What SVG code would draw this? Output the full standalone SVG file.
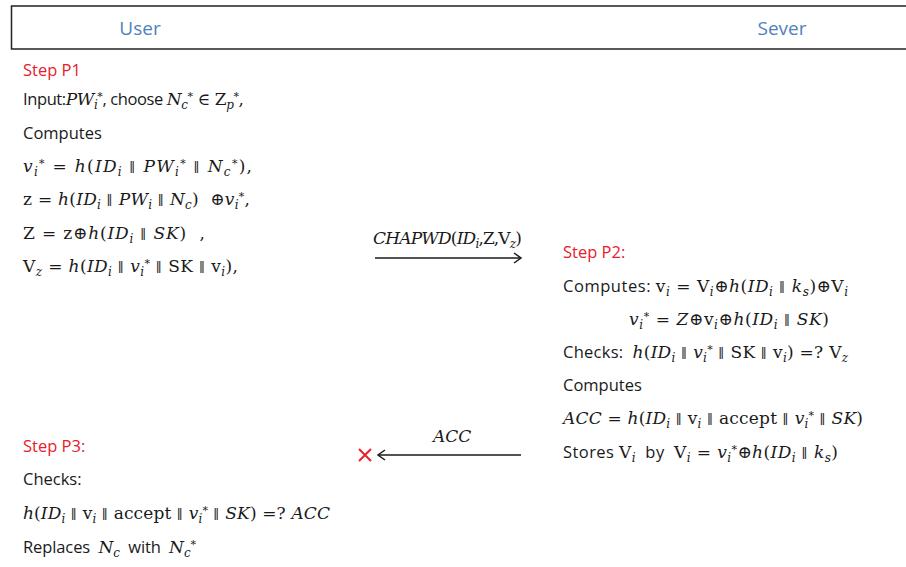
<svg xmlns="http://www.w3.org/2000/svg" width="906" height="567" viewBox="0 0 906 567">
<style>
text{font-family:"DejaVu Serif","Liberation Serif",serif;font-size:17px;fill:#1a1a1a;white-space:pre}
.s{font-family:"Open Sans","Liberation Sans",sans-serif;font-size:16.5px}
.r{fill:#e8202a}
.h{font-family:"Open Sans","Liberation Sans",sans-serif;font-size:19px;fill:#4f81bd}
.i{font-style:italic}
.b{font-size:12px;baseline-shift:-4px}
.p{font-size:11px;baseline-shift:5px}
.c{font-family:"DejaVu Serif",serif;font-size:13px;fill:#1a1a1a}
</style>
<defs>
<marker id="ah" markerWidth="12" markerHeight="12" refX="10" refY="6" orient="auto" markerUnits="userSpaceOnUse">
<path d="M3,1 L10,6 L3,11" fill="none" stroke="#1a1a1a" stroke-width="1.5"/>
</marker>
</defs>
<g id="header">
<path d="M906,6 H11.5 V49 H906" fill="none" stroke="#222" stroke-width="1.5"/>
<text class="h" x="140" y="35" text-anchor="middle">User</text>
<text class="h" x="782" y="35" text-anchor="middle">Sever</text>
</g>
<g id="step-p1">
<text class="s r" x="23" y="76">Step P1</text>
<text x="23" y="105" textLength="221" lengthAdjust="spacing"><tspan class="s">Input:</tspan><tspan class="i">PW</tspan><tspan class="b i">i</tspan><tspan class="p">*</tspan><tspan class="s">, choose </tspan><tspan class="i">N</tspan><tspan class="b i">c</tspan><tspan class="p">*</tspan> ∈ Z<tspan class="b i">p</tspan><tspan class="p">*</tspan>,</text>
<text class="s" x="23" y="139">Computes</text>
<text x="23" y="172" textLength="229" lengthAdjust="spacing"><tspan class="i">v</tspan><tspan class="b i">i</tspan><tspan class="p">*</tspan> = <tspan class="i">h</tspan>(<tspan class="i">ID</tspan><tspan class="b i">i</tspan> <tspan class="c">∥</tspan> <tspan class="i">PW</tspan><tspan class="b i">i</tspan><tspan class="p">*</tspan> <tspan class="c">∥</tspan> <tspan class="i">N</tspan><tspan class="b i">c</tspan><tspan class="p">*</tspan>),</text>
<text x="23" y="205" textLength="227" lengthAdjust="spacing">z = <tspan class="i">h</tspan>(<tspan class="i">ID</tspan><tspan class="b i">i</tspan> <tspan class="c">∥</tspan> <tspan class="i">PW</tspan><tspan class="b i">i</tspan> <tspan class="c">∥</tspan> <tspan class="i">N</tspan><tspan class="b i">c</tspan>)  ⊕<tspan class="i">v</tspan><tspan class="b i">i</tspan><tspan class="p">*</tspan>,</text>
<text x="23" y="239" textLength="182" lengthAdjust="spacing">Z = z⊕<tspan class="i">h</tspan>(<tspan class="i">ID</tspan><tspan class="b i">i</tspan> <tspan class="c">∥</tspan> <tspan class="i">SK</tspan>)  ,</text>
<text x="23" y="272" textLength="215" lengthAdjust="spacing">V<tspan class="b i">z</tspan> = <tspan class="i">h</tspan>(<tspan class="i">ID</tspan><tspan class="b i">i</tspan> <tspan class="c">∥</tspan> <tspan class="i">v</tspan><tspan class="b i">i</tspan><tspan class="p">*</tspan> <tspan class="c">∥</tspan> SK <tspan class="c">∥</tspan> v<tspan class="b i">i</tspan>),</text>
</g>
<g id="step-p2">
<text class="s r" x="563" y="258">Step P2:</text>
<text x="563" y="292" textLength="285" lengthAdjust="spacing"><tspan class="s">Computes: </tspan>v<tspan class="b i">i</tspan> = V<tspan class="b i">i</tspan>⊕<tspan class="i">h</tspan>(<tspan class="i">ID</tspan><tspan class="b i">i</tspan> <tspan class="c">∥</tspan> <tspan class="i">k</tspan><tspan class="b i">s</tspan>)⊕V<tspan class="b i">i</tspan></text>
<text x="629" y="325" textLength="200" lengthAdjust="spacing"><tspan class="i">v</tspan><tspan class="b i">i</tspan><tspan class="p">*</tspan> = <tspan class="i">Z</tspan>⊕v<tspan class="b i">i</tspan>⊕<tspan class="i">h</tspan>(<tspan class="i">ID</tspan><tspan class="b i">i</tspan> <tspan class="c">∥</tspan> <tspan class="i">SK</tspan>)</text>
<text x="563" y="358" textLength="285" lengthAdjust="spacing"><tspan class="s">Checks:  </tspan><tspan class="i">h</tspan>(<tspan class="i">ID</tspan><tspan class="b i">i</tspan> <tspan class="c">∥</tspan> <tspan class="i">v</tspan><tspan class="b i">i</tspan><tspan class="p">*</tspan> <tspan class="c">∥</tspan> SK <tspan class="c">∥</tspan> v<tspan class="b i">i</tspan>) =? V<tspan class="b i">z</tspan></text>
<text class="s" x="563" y="391">Computes</text>
<text x="563" y="424" textLength="300" lengthAdjust="spacing"><tspan class="i">ACC</tspan> = <tspan class="i">h</tspan>(<tspan class="i">ID</tspan><tspan class="b i">i</tspan> <tspan class="c">∥</tspan> v<tspan class="b i">i</tspan> <tspan class="c">∥</tspan> accept <tspan class="c">∥</tspan> <tspan class="i">v</tspan><tspan class="b i">i</tspan><tspan class="p">*</tspan> <tspan class="c">∥</tspan> <tspan class="i">SK</tspan>)</text>
<text x="563" y="458" textLength="275" lengthAdjust="spacing"><tspan class="s">Stores </tspan>V<tspan class="b i">i</tspan><tspan class="s">  by  </tspan>V<tspan class="b i">i</tspan> = <tspan class="i">v</tspan><tspan class="b i">i</tspan><tspan class="p">*</tspan>⊕<tspan class="i">h</tspan>(<tspan class="i">ID</tspan><tspan class="b i">i</tspan> <tspan class="c">∥</tspan> <tspan class="i">k</tspan><tspan class="b i">s</tspan>)</text>
</g>
<g id="step-p3">
<text class="s r" x="23" y="452">Step P3:</text>
<text class="s" x="23" y="485">Checks:</text>
<text x="23" y="519" textLength="307" lengthAdjust="spacing"><tspan class="i">h</tspan>(<tspan class="i">ID</tspan><tspan class="b i">i</tspan> <tspan class="c">∥</tspan> v<tspan class="b i">i</tspan> <tspan class="c">∥</tspan> accept <tspan class="c">∥</tspan> <tspan class="i">v</tspan><tspan class="b i">i</tspan><tspan class="p">*</tspan> <tspan class="c">∥</tspan> <tspan class="i">SK</tspan>) =? <tspan class="i">ACC</tspan></text>
<text x="23" y="553" textLength="173" lengthAdjust="spacing"><tspan class="s">Replaces  </tspan><tspan class="i">N</tspan><tspan class="b i">c</tspan><tspan class="s">  with  </tspan><tspan class="i">N</tspan><tspan class="b i">c</tspan><tspan class="p">*</tspan></text>
</g>
<g id="connectors">
<line x1="375" y1="258" x2="521" y2="258" stroke="#1a1a1a" stroke-width="1.5" marker-end="url(#ah)"/>
<text x="373" y="244" font-size="14" textLength="149" lengthAdjust="spacing"><tspan class="i">CHAPWD</tspan>(<tspan class="i">ID</tspan><tspan class="b i">i</tspan>,Z,V<tspan class="b i">z</tspan>)</text>
<line x1="521" y1="455" x2="378" y2="455" stroke="#1a1a1a" stroke-width="1.5" marker-end="url(#ah)"/>
<text class="i" x="433" y="442" font-size="15">ACC</text>
<path d="M359,449 L371,461 M371,449 L359,461" stroke="#e8202a" stroke-width="2"/>
</g>
</svg>
